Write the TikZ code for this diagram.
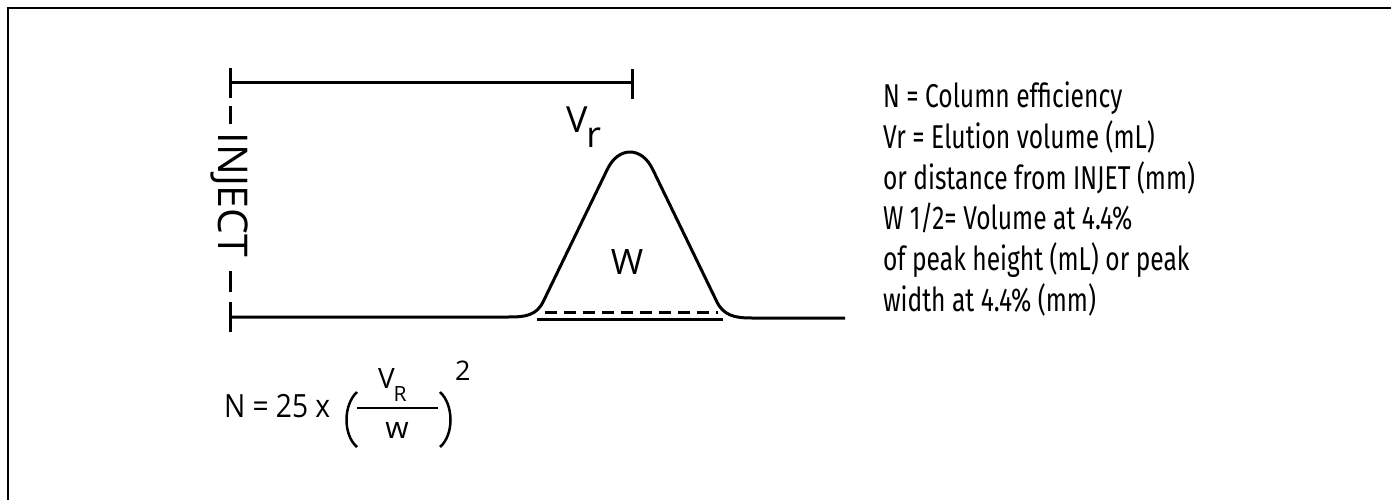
\documentclass[tikz,border=0pt]{standalone}
\usepackage{fontspec}
\setmainfont{Open Sans}
\newfontfamily\condfont[FakeStretch=0.745]{Fira Sans}
\newfontfamily\formfont[FakeStretch=0.88]{Open Sans}
\tikzset{
  lbl/.style={inner sep=0pt, outer sep=0pt},
  desc/.style={lbl, anchor=base west, font=\condfont\fontsize{33}{36}\selectfont},
  stroke/.style={line width=3pt},
}
\begin{document}
\begin{tikzpicture}[x=1pt,y=-1pt]
\useasboundingbox (0,0) rectangle (1391,500);
% frame
\draw[line width=2pt] (8,500) -- (8,8) -- (1391,8);
% top bar (Vr)
\coordinate (tl) at (230,83);
\coordinate (tr) at (632,83);
\draw[stroke] (tl) -- (tr);
\draw[stroke] (230,68) -- (230,98);
\draw[stroke] (632,69) -- (632,99);
% inject line
\draw[stroke] (230,106) -- (230,124);
\draw[stroke] (230,271) -- (230,292);
\draw[stroke] (230,302) -- (230,332);
\node[lbl, rotate=-90, anchor=base, font=\fontsize{41}{44}\selectfont] (inj) at (218,195) {INJECT};
% baseline and peak
\draw[stroke, line join=round] (230,317) -- (508,317)
  .. controls (525,317) and (537,316) .. (544,300)
  -- (607,170)
  .. controls (618,146) and (642,146) .. (653,170)
  -- (716,300)
  .. controls (723,316) and (735,318) .. (752,318)
  -- (845,318);
\draw[stroke, dash pattern=on 12pt off 7pt] (545,312) -- (718,312);
\draw[stroke] (537,319.5) -- (723,319.5);
% labels
\node[lbl, anchor=base west, font=\fontsize{36}{40}\selectfont] (vr) at (566,132) {V\kern-1pt\raisebox{-15pt}{r}};
\node[lbl, font=\fontsize{35}{40}\selectfont] (w) at (627,262) {W};
% formula
\node[lbl, anchor=base west, font=\formfont\fontsize{32}{36}\selectfont] (n) at (224,417) {N = 25 x};
\draw[line width=2.5pt] (357,392) .. controls (343,405) and (343,435) .. (357,447);
\draw[line width=2.5pt] (440,392) .. controls (454,405) and (454,435) .. (440,447);
\draw[line width=2pt] (357,408) -- (438,408);
\node[lbl, anchor=base west, font=\fontsize{28}{30}\selectfont] (vnum) at (378,388) {V\kern-1pt\raisebox{-13pt}{\fontsize{21}{24}\selectfont R}};
\node[lbl, anchor=base, font=\fontsize{30}{32}\selectfont] (wden) at (397,438) {w};
\node[lbl, anchor=base west, font=\fontsize{27}{30}\selectfont] (sq) at (455,380) {2};
% description
\node[desc] (d1) at (883,108) {N = Column efficiency};
\node[desc] (d2) at (883,148.6) {Vr = Elution volume (mL)};
\node[desc] (d3) at (883,189.2) {or distance from INJET (mm)};
\node[desc] (d4) at (883,229.8) {W 1/2= Volume at 4.4\%};
\node[desc] (d5) at (883,270.4) {of peak height (mL) or peak};
\node[desc] (d6) at (883,311) {width at 4.4\% (mm)};
\end{tikzpicture}
\end{document}
